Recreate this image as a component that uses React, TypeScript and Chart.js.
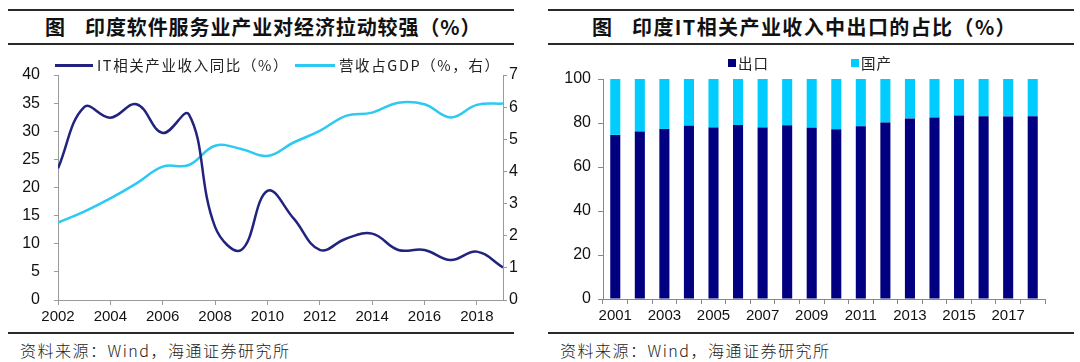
import React, { useEffect, useRef } from 'react';
import { Chart, registerables } from 'chart.js';
Chart.register(...registerables);

// ---- Left chart data ----
const lineYears = [2002, 2003, 2004, 2005, 2006, 2007, 2008, 2009, 2010, 2011, 2012, 2013, 2014, 2015, 2016, 2017, 2018, 2019];
const itRevenueGrowth = [23.4, 34.3, 32.4, 34.8, 29.7, 33.0, 13.0, 8.9, 19.4, 14.5, 8.9, 10.9, 11.8, 8.9, 8.9, 7.1, 8.6, 5.8];
const revenueShareOfGdp = [2.41, 2.75, 3.16, 3.63, 4.15, 4.2, 4.8, 4.7, 4.48, 4.9, 5.26, 5.73, 5.83, 6.14, 6.09, 5.68, 6.07, 6.11];
const leftTitle = '印度软件服务业产业对经济拉动较强（%）';
const lineLabels = ['IT相关产业收入同比（%）', '营收占GDP（%，右）'];

// ---- Right chart data ----
const barYears = ['2001', '2002', '2003', '2004', '2005', '2006', '2007', '2008', '2009', '2010', '2011', '2012', '2013', '2014', '2015', '2016', '2017', '2018'];
const exportShare = [74.6, 76.1, 77.3, 78.7, 77.9, 79.1, 77.9, 79.0, 77.8, 77.2, 78.5, 80.2, 82.1, 82.5, 83.4, 83.1, 82.9, 83.1];
const domesticShare = [25.4, 23.9, 22.7, 21.3, 22.1, 20.9, 22.1, 21.0, 22.2, 22.8, 21.5, 19.8, 17.9, 17.5, 16.6, 16.9, 17.1, 16.9];
const rightTitle = '印度IT相关产业收入中出口的占比（%）';
const barLabels = ['出口', '国产'];

const source = '资料来源：Wind，海通证券研究所';

const NAVY_LINE = '#22227f';
const CYAN_LINE = '#2ccaf2';
const NAVY_BAR = '#000080';
const CYAN_BAR = '#00ccff';
const AXIS = '#9a9a9a';
const LATIN = "'Liberation Sans', Arial, sans-serif";
const CJK = "'Noto Sans CJK SC', 'Liberation Sans', sans-serif";

function LineChart() {
  const ref = useRef<HTMLCanvasElement>(null);
  useEffect(() => {
    const chart = new Chart(ref.current!, {
      type: 'line',
      data: {
        datasets: [
          {
            label: lineLabels[0],
            data: lineYears.map((x, i) => ({ x, y: itRevenueGrowth[i] })),
            borderColor: NAVY_LINE,
            backgroundColor: NAVY_LINE,
            borderWidth: 2.5,
            pointRadius: 0,
            tension: 0.4,
            yAxisID: 'y',
          },
          {
            label: lineLabels[1],
            data: lineYears.map((x, i) => ({ x, y: revenueShareOfGdp[i] })),
            borderColor: CYAN_LINE,
            backgroundColor: CYAN_LINE,
            borderWidth: 2.5,
            pointRadius: 0,
            tension: 0.4,
            yAxisID: 'y1',
          },
        ],
      },
      options: {
        animation: false,
        responsive: false,
        layout: { padding: { top: 25, left: 0, right: 0, bottom: 0 } },
        plugins: { legend: { display: false }, tooltip: { enabled: false } },
        scales: {
          x: {
            type: 'linear',
            min: 2002,
            max: 2019,
            ticks: {
              stepSize: 2,
              includeBounds: false,
              autoSkip: false,
              maxRotation: 0,
              padding: 3,
              color: '#111',
              font: { family: LATIN, size: 15 },
              callback: (v: any) => String(v),
            },
            grid: { drawOnChartArea: false, tickLength: 5, color: AXIS },
            border: { color: AXIS },
            afterFit: (s: any) => { s.height = 30; },
          },
          y: {
            position: 'left',
            min: 0,
            max: 40,
            ticks: { stepSize: 5, padding: 14, color: '#111', font: { family: LATIN, size: 16 } },
            grid: { drawOnChartArea: false, tickLength: 4, color: AXIS },
            border: { color: AXIS },
            afterFit: (s: any) => { s.width = 58; },
          },
          y1: {
            position: 'right',
            min: 0,
            max: 7,
            ticks: { stepSize: 1, padding: 2, color: '#111', font: { family: LATIN, size: 16 } },
            grid: { drawOnChartArea: false, tickLength: 4, color: AXIS },
            border: { color: AXIS },
            afterFit: (s: any) => { s.width = 37; },
          },
        },
      },
    });
    return () => chart.destroy();
  }, []);
  return <canvas ref={ref} width={540} height={280} style={{ position: 'absolute', left: 0, top: 50 }} />;
}

function BarChart() {
  const ref = useRef<HTMLCanvasElement>(null);
  useEffect(() => {
    const chart = new Chart(ref.current!, {
      type: 'bar',
      data: {
        labels: barYears,
        datasets: [
          { label: barLabels[0], data: exportShare, backgroundColor: NAVY_BAR, categoryPercentage: 1, barPercentage: 0.41 },
          { label: barLabels[1], data: domesticShare, backgroundColor: CYAN_BAR, categoryPercentage: 1, barPercentage: 0.41 },
        ],
      },
      options: {
        animation: false,
        responsive: false,
        layout: { padding: { top: 29, left: 0, right: 35, bottom: 0 } },
        plugins: { legend: { display: false }, tooltip: { enabled: false } },
        scales: {
          x: {
            stacked: true,
            ticks: {
              autoSkip: false,
              maxRotation: 0,
              padding: 3,
              color: '#111',
              font: { family: LATIN, size: 15 },
              callback: (_v: any, i: number) => (i % 2 === 0 ? barYears[i] : ''),
            },
            grid: { drawOnChartArea: false, tickLength: 5, color: '#888', offset: true },
            border: { color: '#888' },
            afterFit: (s: any) => { s.height = 31; },
          },
          y: {
            stacked: true,
            min: 0,
            max: 100,
            ticks: { stepSize: 20, padding: 7, color: '#111', font: { family: LATIN, size: 16 } },
            grid: { drawOnChartArea: false, tickLength: 5, color: '#888' },
            border: { color: '#888' },
            afterFit: (s: any) => { s.width = 63; },
          },
        },
      },
    });
    return () => chart.destroy();
  }, []);
  return <canvas ref={ref} width={540} height={280} style={{ position: 'absolute', left: 540, top: 50 }} />;
}

const abs = (o: React.CSSProperties): React.CSSProperties => ({ position: 'absolute', ...o });

function Rule({ x, y, w }: { x: number; y: number; w: number }) {
  return <div style={abs({ left: x, top: y, width: w, height: 2, background: '#2a2a2a' })} />;
}

export default function App() {
  const titleStyle: React.CSSProperties = { fontFamily: CJK, fontWeight: 700, fontSize: 20, color: '#111', whiteSpace: 'nowrap', lineHeight: '24px' };
  const legendText: React.CSSProperties = { fontFamily: CJK, fontSize: 14.5, color: '#222', whiteSpace: 'nowrap', lineHeight: '18px', letterSpacing: 1.6 };
  const srcStyle: React.CSSProperties = { fontFamily: CJK, fontSize: 16, color: '#222', whiteSpace: 'nowrap', lineHeight: '20px', fontWeight: 300, letterSpacing: 1.5 };
  return (
    <div style={{ position: 'fixed', left: 0, top: 0, width: 1080, height: 362, background: '#fff', overflow: 'hidden' }}>
      {/* Left panel */}
      <Rule x={8} y={9} w={506} />
      <Rule x={8} y={43} w={506} />
      <div style={abs({ left: 45, top: 15, ...titleStyle })}>图</div>
      <div style={abs({ left: 85, top: 15, ...titleStyle, letterSpacing: 0.9 })}>{leftTitle}</div>
      <LineChart />
      <div style={abs({ left: 55, top: 64, width: 38, height: 3, background: NAVY_LINE })} />
      <div style={abs({ left: 97, top: 56, ...legendText })}>{lineLabels[0]}</div>
      <div style={abs({ left: 295, top: 64, width: 40, height: 3, background: CYAN_LINE })} />
      <div style={abs({ left: 339, top: 56, ...legendText })}>{lineLabels[1]}</div>
      <Rule x={8} y={332} w={506} />
      <div style={abs({ left: 20, top: 340, ...srcStyle })}>{source}</div>

      {/* Right panel */}
      <Rule x={548} y={9} w={526} />
      <Rule x={548} y={43} w={526} />
      <div style={abs({ left: 592, top: 15, ...titleStyle })}>图</div>
      <div style={abs({ left: 632, top: 15, ...titleStyle, letterSpacing: 1.4 })}>{rightTitle}</div>
      <BarChart />
      <div style={abs({ left: 728, top: 59, width: 8, height: 8, background: NAVY_BAR })} />
      <div style={abs({ left: 738, top: 54, ...legendText, letterSpacing: 1 })}>{barLabels[0]}</div>
      <div style={abs({ left: 851, top: 59, width: 8, height: 8, background: CYAN_BAR })} />
      <div style={abs({ left: 861, top: 54, ...legendText, letterSpacing: 1 })}>{barLabels[1]}</div>
      <Rule x={548} y={332} w={526} />
      <div style={abs({ left: 560, top: 340, ...srcStyle })}>{source}</div>
    </div>
  );
}
